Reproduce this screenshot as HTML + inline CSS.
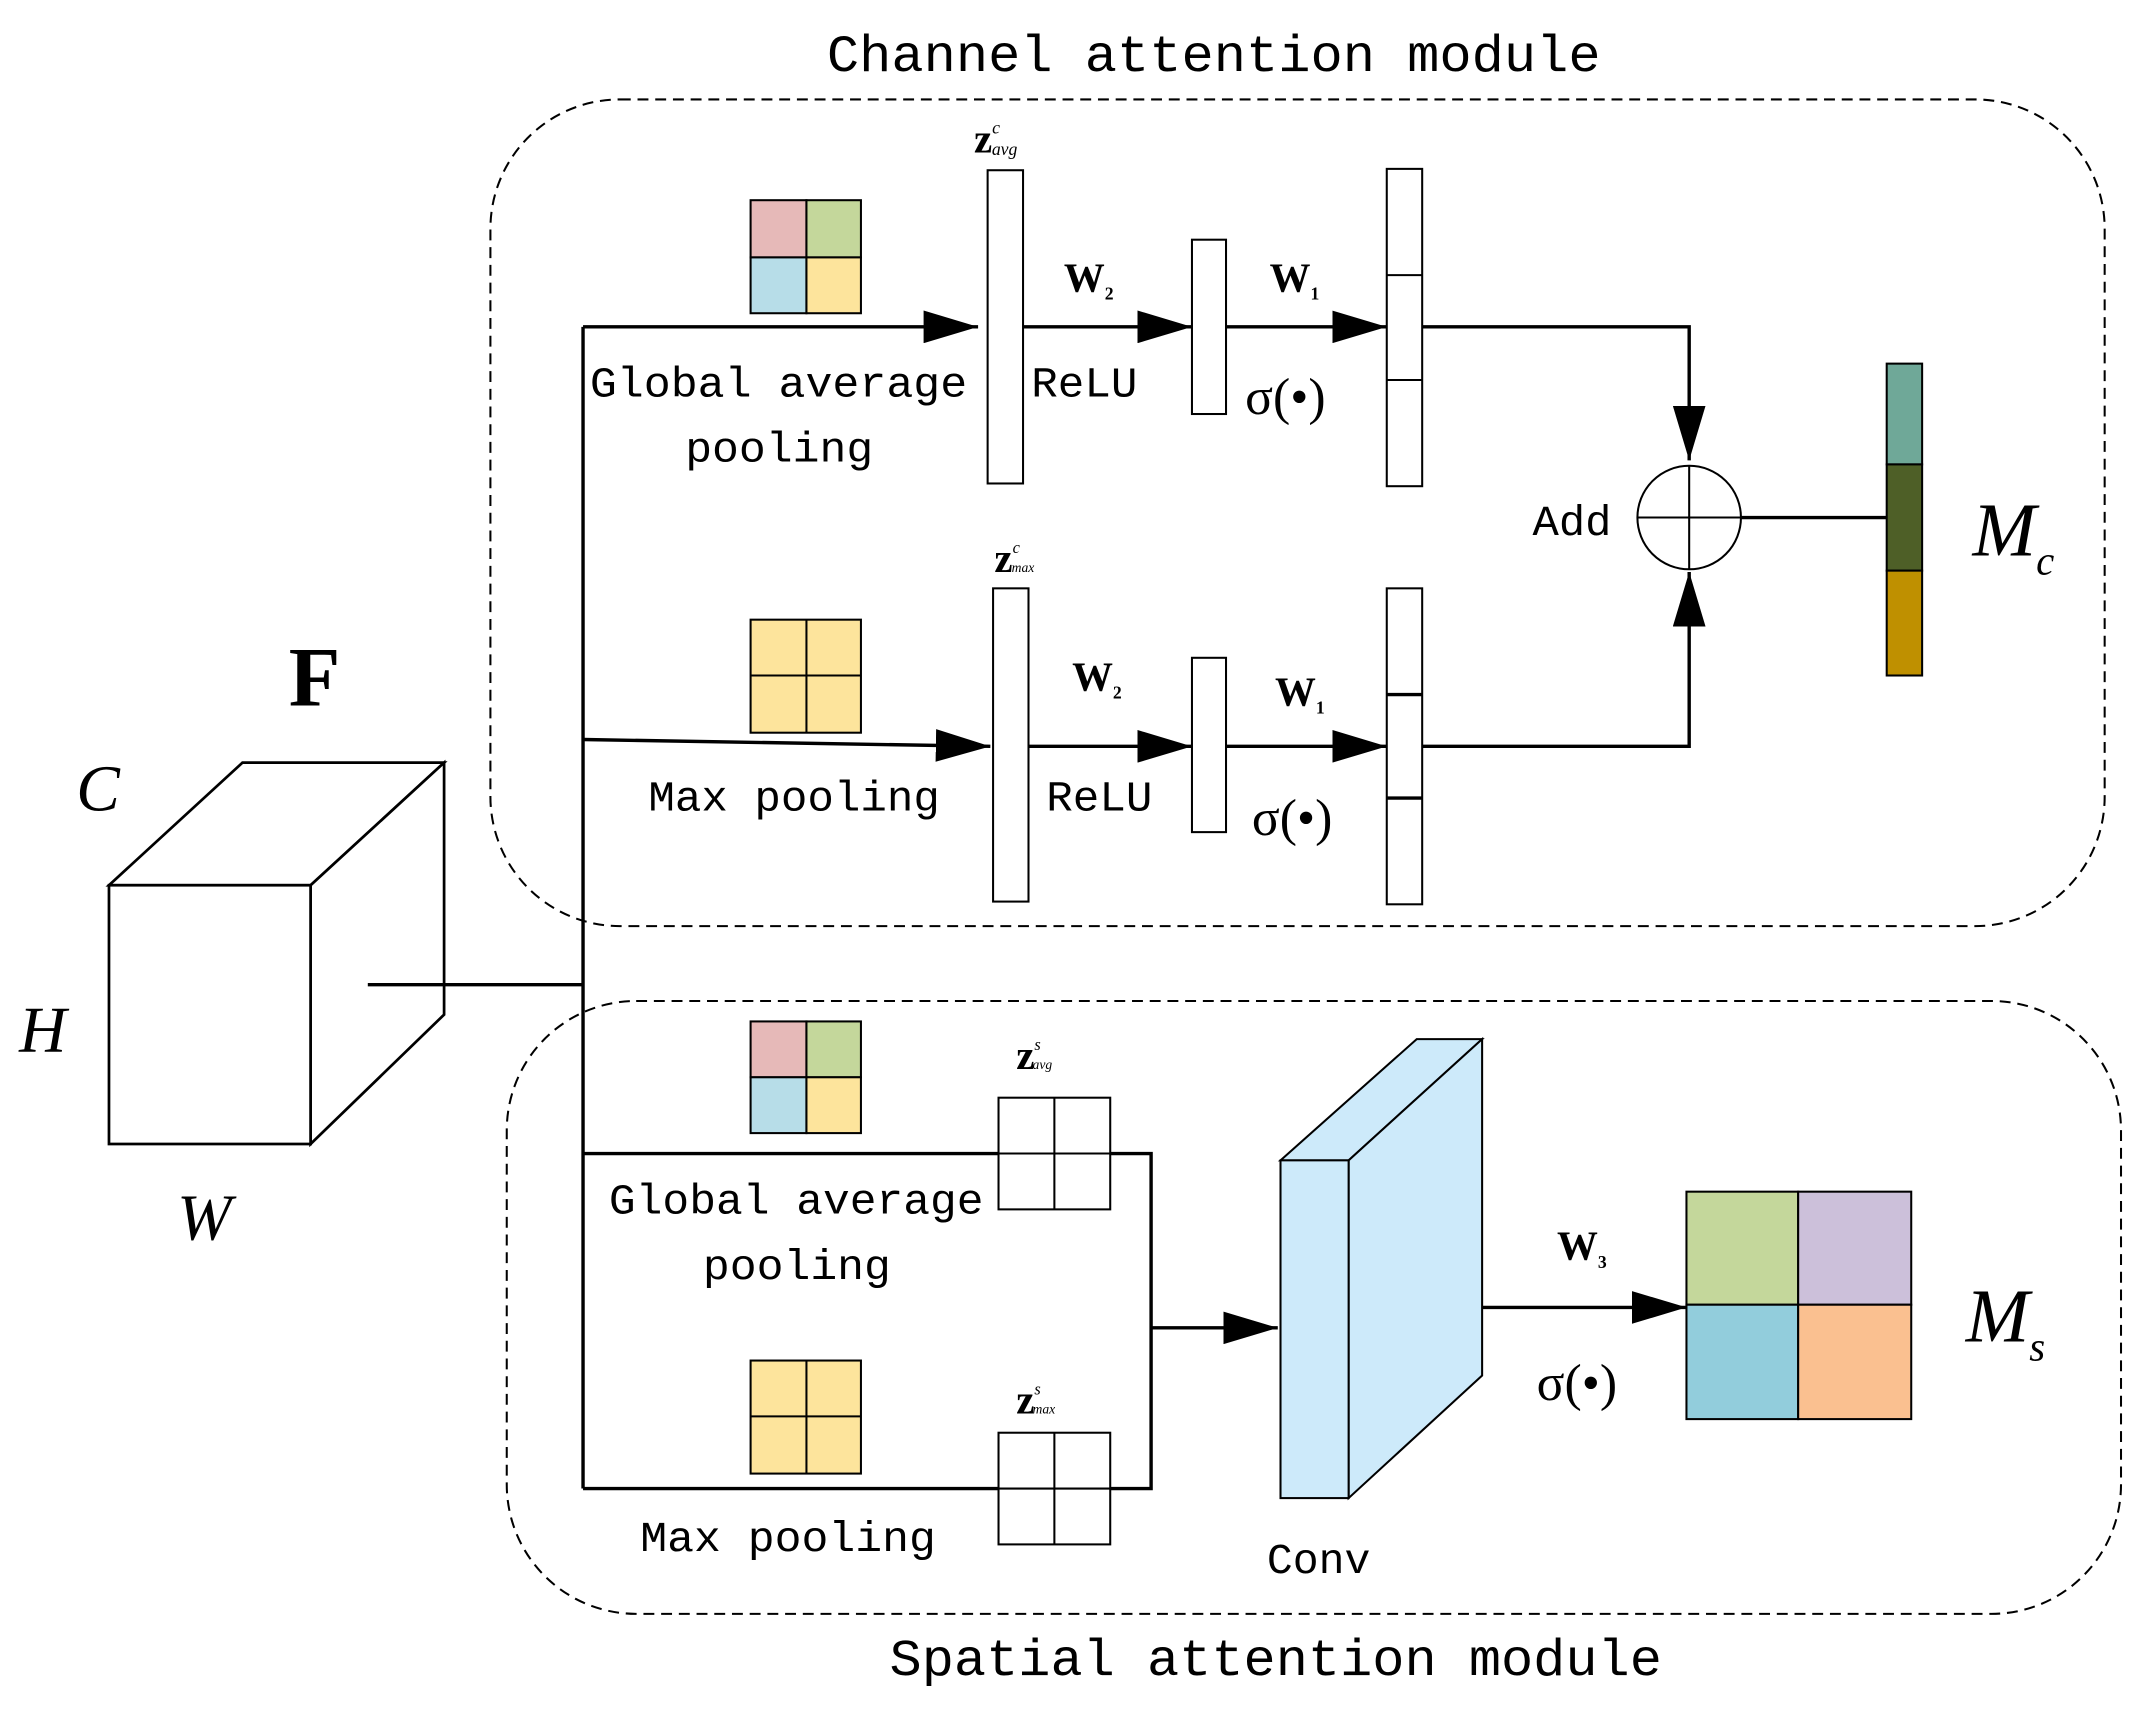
<!DOCTYPE html>
<html><head><meta charset="utf-8"><style>html,body{margin:0;padding:0;background:#fff}svg{display:block}</style></head><body>
<svg width="2136" height="1716" viewBox="0 0 1568 1260" preserveAspectRatio="none" xmlns="http://www.w3.org/2000/svg">
<defs>
<marker id="b" markerWidth="40" markerHeight="24" refX="40" refY="12" orient="auto" markerUnits="userSpaceOnUse"><path d="M0,0 L40,12 L0,24z" fill="#000"/></marker></defs>
<g font-family="Liberation Mono, monospace" font-size="31" fill="#000">
<text x="607" y="52" textLength="568" lengthAdjust="spacingAndGlyphs" font-size="38">Channel attention module</text>
<text x="653" y="1230" textLength="567" lengthAdjust="spacingAndGlyphs" font-size="38">Spatial attention module</text>
</g>
<g fill="none" stroke="#000" stroke-width="1.5" stroke-dasharray="8,5">
<rect x="360" y="73" width="1185" height="607" rx="95"/>
<rect x="372" y="735" width="1185" height="450" rx="95"/>
</g>
<g fill="#fff" stroke="#000" stroke-width="2">
<polygon points="80,650 178,560 326,560 228,650"/>
<polygon points="228,650 326,560 326,745 228,840"/>
<rect x="80" y="650" width="148" height="190"/>
</g>
<g font-family="Liberation Serif, serif" font-style="italic" font-size="48">
<text x="56" y="595">C</text><text x="14" y="772">H</text><text x="130" y="910">W</text>
<text x="1448" y="408" font-size="56">M<tspan font-size="30" dy="14">c</tspan></text>
<text x="1443" y="985" font-size="56">M<tspan font-size="30" dy="14">s</tspan></text>
</g>
<text x="212" y="518" font-family="Liberation Serif, serif" font-weight="bold" font-size="62">F</text>
<g stroke="#000" stroke-width="2.5" fill="none">
<path d="M270,723 H428 M428,240 V1093"/>
<path d="M428,240 H718" marker-end="url(#b)"/>
<path d="M751,240 H875" marker-end="url(#b)"/>
<path d="M900,240 H1018" marker-end="url(#b)"/>
<path d="M1044,240 H1240 V338" marker-end="url(#b)"/>
<path d="M428,543 L727,548" marker-end="url(#b)"/>
<path d="M755,548 H875" marker-end="url(#b)"/>
<path d="M900,548 H1018" marker-end="url(#b)"/>
<path d="M1044,548 H1240 V420" marker-end="url(#b)"/>
<path d="M1278,380 H1385"/>
<path d="M428,847 H845 V1093 H428"/>
<path d="M845,975 H938" marker-end="url(#b)"/>
<path d="M1080,960 H1238" marker-end="url(#b)"/>
</g>
<g stroke="#000" stroke-width="1.5" fill="none"><circle cx="1240" cy="380" r="38"/><path d="M1202,380 H1278 M1240,342 V418"/></g>
<g stroke="#000" stroke-width="1.5">
<rect x="551" y="147" width="41" height="42" fill="#e6b9b8"/><rect x="592" y="147" width="40" height="42" fill="#c4d79b"/>
<rect x="551" y="189" width="41" height="41" fill="#b7dde8"/><rect x="592" y="189" width="40" height="41" fill="#fde49c"/>
<rect x="551" y="455" width="81" height="83" fill="#fde49c"/><path d="M592,455 V538 M551,496 H632"/>
<rect x="551" y="750" width="41" height="41" fill="#e6b9b8"/><rect x="592" y="750" width="40" height="41" fill="#c4d79b"/>
<rect x="551" y="791" width="41" height="41" fill="#b7dde8"/><rect x="592" y="791" width="40" height="41" fill="#fde49c"/>
<rect x="551" y="999" width="81" height="83" fill="#fde49c"/><path d="M592,999 V1082 M551,1040 H632"/>
<rect x="733" y="806" width="82" height="82" fill="#fff"/><path d="M774,806 V888 M733,847 H815"/>
<rect x="733" y="1052" width="82" height="82" fill="#fff"/><path d="M774,1052 V1134 M733,1093 H815"/>
<rect x="725" y="125" width="26" height="230" fill="#fff"/>
<rect x="875" y="176" width="25" height="128" fill="#fff"/>
<rect x="1018" y="124" width="26" height="233" fill="#fff"/><path d="M1018,202 H1044 M1018,279 H1044"/>
<rect x="729" y="432" width="26" height="230" fill="#fff"/>
<rect x="875" y="483" width="25" height="128" fill="#fff"/>
<rect x="1018" y="432" width="26" height="232" fill="#fff"/><path d="M1018,510 H1044 M1018,586 H1044" stroke-width="2.5"/>
<rect x="1385" y="267" width="26" height="74" fill="#6fa898"/>
<rect x="1385" y="341" width="26" height="78" fill="#4e5f27"/>
<rect x="1385" y="419" width="26" height="77" fill="#bf9000"/>
<polygon points="940,852 1040,763 1088,763 990,852" fill="#cdeafa"/>
<polygon points="990,852 1088,763 1088,1010 990,1100" fill="#cdeafa"/>
<rect x="940" y="852" width="50" height="248" fill="#cdeafa"/>
<rect x="1238" y="875" width="82" height="83" fill="#c4d79b"/><rect x="1320" y="875" width="83" height="83" fill="#ccc0da"/>
<rect x="1238" y="958" width="82" height="84" fill="#92cddc"/><rect x="1320" y="958" width="83" height="84" fill="#fac090"/>
</g>
<g font-family="Liberation Mono, monospace" font-size="31" fill="#000">
<text x="433" y="291" textLength="277" lengthAdjust="spacingAndGlyphs">Global average</text>
<text x="503" y="339" textLength="138" lengthAdjust="spacingAndGlyphs">pooling</text>
<text x="757" y="291" textLength="78" lengthAdjust="spacingAndGlyphs">ReLU</text>
<text x="476" y="595" textLength="214" lengthAdjust="spacingAndGlyphs">Max pooling</text>
<text x="768" y="595" textLength="78" lengthAdjust="spacingAndGlyphs">ReLU</text>
<text x="1125" y="393" textLength="58" lengthAdjust="spacingAndGlyphs">Add</text>
<text x="447" y="891" textLength="275" lengthAdjust="spacingAndGlyphs">Global average</text>
<text x="516" y="939" textLength="138" lengthAdjust="spacingAndGlyphs">pooling</text>
<text x="470" y="1139" textLength="217" lengthAdjust="spacingAndGlyphs">Max pooling</text>
<text x="930" y="1155" textLength="76" lengthAdjust="spacingAndGlyphs">Conv</text>
</g>
<g font-family="Liberation Serif, serif" fill="#000">
<g font-weight="bold" font-size="30">
<text x="781" y="214">W<tspan font-size="13" dy="6">2</tspan></text>
<text x="932" y="214">W<tspan font-size="13" dy="6">1</tspan></text>
<text x="787" y="507">W<tspan font-size="13" dy="6">2</tspan></text>
<text x="936" y="518">W<tspan font-size="13" dy="6">1</tspan></text>
<text x="1143" y="925">W<tspan font-size="13" dy="6">3</tspan></text>
<text x="715" y="112">z<tspan font-size="13" font-style="italic" font-weight="normal" dy="-14">c</tspan><tspan font-size="13" font-style="italic" font-weight="normal" dx="-6" dy="16">avg</tspan></text>
<text x="730" y="420">z<tspan font-size="12" font-style="italic" font-weight="normal" dy="-14">c</tspan><tspan font-size="10" font-style="italic" font-weight="normal" dx="-6" dy="14">max</tspan></text>
<text x="746" y="785">z<tspan font-size="12" font-style="italic" font-weight="normal" dy="-14">s</tspan><tspan font-size="10" font-style="italic" font-weight="normal" dx="-6" dy="14">avg</tspan></text>
<text x="746" y="1038">z<tspan font-size="12" font-style="italic" font-weight="normal" dy="-14">s</tspan><tspan font-size="10" font-style="italic" font-weight="normal" dx="-6" dy="14">max</tspan></text>
</g>
<g font-size="38">
<text x="914" y="304">σ(•)</text>
<text x="919" y="613">σ(•)</text>
<text x="1128" y="1028">σ(•)</text>
</g>
</g>
</svg>
</body></html>
